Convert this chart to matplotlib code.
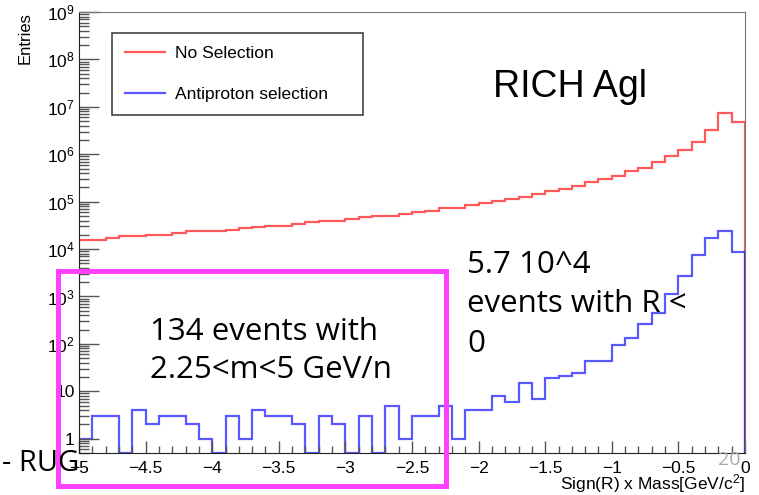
import numpy as np
import matplotlib
matplotlib.use("Agg")
import matplotlib.pyplot as plt
from matplotlib.patches import Rectangle
from matplotlib.ticker import FixedLocator, FixedFormatter, MultipleLocator, LogLocator, NullFormatter

W, H = 759, 495

# histogram binning: 50 bins of 0.1 from -5 to 0
bin_low = -5.0
bin_width = 0.1

no_selection = [15800, 15800, 17000, 18500, 18500, 20000, 20000, 21700, 23500, 24500,
                24500, 25600, 27900, 29200, 31000, 31000, 33800, 36600, 38400, 39800,
                44000, 46500, 48700, 51000, 55000, 60500, 64500, 72000, 75000, 85000,
                93000, 103000, 115000, 128000, 145000, 165000, 187000, 217000, 256000, 300000,
                340000, 437000, 510000, 690000, 900000, 1.2e6, 1.78e6, 3.2e6, 7.4e6, 4.9e6]
antiproton = [1, 3, 3, 0, 4, 2, 3, 3, 2, 1,
              0, 3, 1, 4, 3, 3, 2, 0, 3, 2,
              0, 3, 0, 5, 1, 3, 3, 5, 1, 4,
              4, 8, 6, 15, 7, 19, 21, 24, 44, 44,
              97, 134, 258, 457, 1150, 2750, 7340, 17150, 24500, 8500]

x_ticks = [-5, -4.5, -4, -3.5, -3, -2.5, -2, -1.5, -1, -0.5, 0]
x_tick_labels = ["\u22125", "\u22124.5", "\u22124", "\u22123.5", "\u22123", "\u22122.5",
                 "\u22122", "\u22121.5", "\u22121", "\u22120.5", "0"]
y_ticks = [1, 1e1, 1e2, 1e3, 1e4, 1e5, 1e6, 1e7, 1e8, 1e9]
y_tick_labels = ["1", "10", "$10^{2}$", "$10^{3}$", "$10^{4}$", "$10^{5}$",
                 "$10^{6}$", "$10^{7}$", "$10^{8}$", "$10^{9}$"]

plt.rcParams["font.family"] = ["Liberation Sans", "DejaVu Sans"]
plt.rcParams["mathtext.default"] = "regular"

fig = plt.figure(figsize=(W / 100, H / 100), dpi=100)
ax = fig.add_axes([79 / W, 1 - 453 / H, (745 - 79) / W, (453 - 12) / H])

ymin = 0.5
edges = bin_low + bin_width * np.arange(len(no_selection) + 1)
ax.set_yscale("log")
ax.stairs(np.maximum(no_selection, ymin), edges, baseline=ymin,
          color="#ff0000", alpha=0.65, lw=1.6, label="No Selection")
ax.stairs(np.maximum(antiproton, ymin), edges, baseline=ymin,
          color="#0000ff", alpha=0.65, lw=1.6, label="Antiproton selection")
ax.set_xlim(-5, 0)
ax.set_ylim(ymin, 1e9)

#---------------------------------[axes look]---------------------------------
for side in ["left", "bottom"]:
    ax.spines[side].set_color("#222222")
for side in ["top", "right"]:
    ax.spines[side].set_color("#777777")

ax.xaxis.set_major_locator(FixedLocator(x_ticks))
ax.xaxis.set_major_formatter(FixedFormatter(x_tick_labels))
ax.xaxis.set_minor_locator(MultipleLocator(0.1))
ax.yaxis.set_major_locator(FixedLocator(y_ticks))
ax.yaxis.set_major_formatter(FixedFormatter(y_tick_labels))
ax.yaxis.set_minor_locator(LogLocator(base=10, subs=np.arange(2, 10), numticks=30))
ax.yaxis.set_minor_formatter(NullFormatter())

ax.tick_params(axis="x", which="major", direction="in", length=9, width=1,
               color="#555555", labelsize=12.5, pad=6, top=False)
ax.tick_params(axis="x", which="minor", direction="in", length=4.8, width=1,
               color="#555555", top=False)
ax.tick_params(axis="y", which="major", direction="in", length=14.4, width=1,
               color="#555555", labelsize=12.5, pad=3, right=False)
ax.tick_params(axis="y", which="minor", direction="in", length=7.2, width=1,
               color="#555555", right=False)

leg = ax.legend(loc="upper left", bbox_to_anchor=(112 / W, 1 - 116 / H, 251 / W, 83 / H),
                bbox_transform=fig.transFigure, mode="expand", borderaxespad=0,
                fontsize=12.5, fancybox=False, framealpha=1, edgecolor="#444444",
                handlelength=2.3, handletextpad=0.6, labelspacing=1.5, borderpad=0.75)
leg.get_frame().set_linewidth(1.2)

fig.text(745 / W, 1 - 489 / H, "Sign(R) x Mass[GeV/c$^{2}$]", fontsize=12.5, ha="right", va="baseline")
fig.text(25 / W, 1 - 12 / H, "Entries", fontsize=12, rotation=90, ha="center", va="top")

#---------------------------------[slide overlay]---------------------------------
fig.add_artist(Rectangle((58 / W, 1 - 486 / H), (445.5 - 58) / W, (486 - 270.5) / H,
                         transform=fig.transFigure, fill=False, edgecolor="#ff40ff",
                         lw=3.6, zorder=5))

fig.text(493 / W, 1 - 97 / H, "RICH Agl", fontsize=27, ha="left", va="baseline", zorder=6)

slide_font = ["Open Sans", "DejaVu Sans"]
for line, base in zip(["134 events with", "2.25<m<5 GeV/n"], [340, 378]):
    fig.text(150 / W, 1 - base / H, line, family=slide_font, fontsize=22.5,
             ha="left", va="baseline", zorder=6)
for line, base in zip(["5.7 10^4", "events with R <", "0"], [273, 312, 352]):
    fig.text(467 / W, 1 - base / H, line, family=slide_font, fontsize=22.5,
             ha="left", va="baseline", zorder=6)

fig.text(2 / W, 1 - 471 / H, "- RUG", family=slide_font, fontsize=21,
         ha="left", va="baseline", zorder=6)
fig.text(718 / W, 1 - 465 / H, "20", family=slide_font, fontsize=14, color="#aaaaaa",
         ha="left", va="baseline", zorder=6)

fig.savefig("out.png", dpi=100)
